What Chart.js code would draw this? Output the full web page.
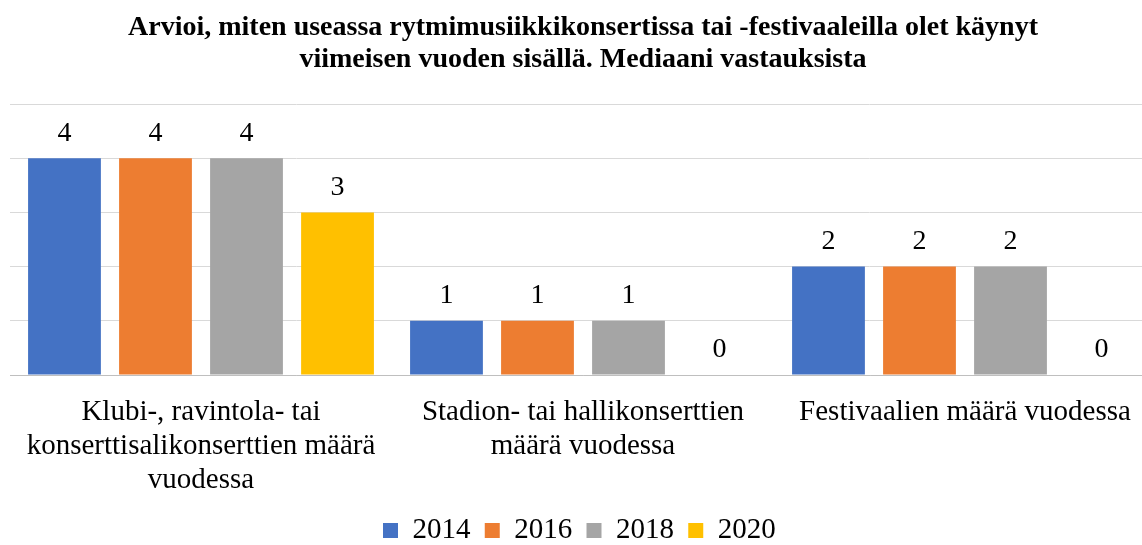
<!DOCTYPE html>
<html>
<head>
<meta charset="utf-8">
<script src="https://cdn.jsdelivr.net/npm/chart.js@4"></script>
<style>
  body { margin: 0; overflow: hidden; background: #fff; }
  #wrap { width: 1160px; height: 555px; }
</style>
</head>
<body>
<div id="wrap"><canvas id="mediaaniChart"></canvas></div>
<script>
// data
const categories = [
  ["Klubi-, ravintola- tai", "konserttisalikonserttien määrä", "vuodessa"],
  ["Stadion- tai hallikonserttien", "määrä vuodessa"],
  ["Festivaalien määrä vuodessa"],
];
const years = ["2014", "2016", "2018", "2020"];
const values2014 = [4, 1, 2];
const values2016 = [4, 1, 2];
const values2018 = [4, 1, 2];
const values2020 = [3, 0, 0];
const colors = ["#4472C4", "#ED7D31", "#A5A5A5", "#FFC000"];

const serif = "'Liberation Serif', 'Times New Roman', serif";

// draws the value above each bar
const valueLabels = {
  id: "valueLabels",
  afterDatasetsDraw(chart) {
    const ctx = chart.ctx;
    ctx.save();
    ctx.font = "28px " + serif;
    ctx.fillStyle = "#000";
    ctx.textAlign = "center";
    ctx.textBaseline = "bottom";
    chart.data.datasets.forEach((ds, i) => {
      chart.getDatasetMeta(i).data.forEach((bar, j) => {
        ctx.fillText(ds.data[j], bar.x, bar.y - 11);
      });
    });
    ctx.restore();
  },
};

function mediaani() {
  const seriesValues = [values2014, values2016, values2018, values2020];
  const data = {
    labels: categories,
    datasets: years.map((y, i) => ({
      label: y,
      data: seriesValues[i],
      backgroundColor: colors[i],
      categoryPercentage: 0.953,
      barPercentage: 0.8,
    })),
  };

  const config = {
    type: "bar",
    data: data,
    options: {
      responsive: true,
      maintainAspectRatio: false,
      animation: false,
      layout: { padding: { left: 10, right: 4, top: 0, bottom: 0 } },
      plugins: {
        title: {
          display: true,
          text: [
            "Arvioi, miten useassa rytmimusiikkikonsertissa tai -festivaaleilla olet käynyt",
            "viimeisen vuoden sisällä. Mediaani vastauksista",
          ],
          color: "#000",
          font: { family: serif, size: 28, weight: "bold", lineHeight: 1.143 },
          padding: { top: 12, bottom: 28 },
        },
        legend: {
          position: "bottom",
          labels: {
            color: "#000",
            font: { family: serif, size: 29 },
            boxWidth: 15,
            boxHeight: 15,
            padding: 7,
            // a trailing space widens the gap between legend items
            generateLabels(chart) {
              const items = Chart.defaults.plugins.legend.labels.generateLabels(chart);
              items.forEach((it) => (it.text = it.text + " "));
              return items;
            },
          },
        },
        tooltip: { enabled: false },
      },
      scales: {
        x: {
          grid: { display: false },
          border: { color: "#bfbfbf" },
          ticks: {
            color: "#000",
            font: { family: serif, size: 29, lineHeight: 1.172 },
            padding: 12,
            maxRotation: 0,
          },
        },
        y: {
          min: 0,
          max: 5,
          ticks: { display: false, stepSize: 1 },
          border: { display: false },
          grid: { color: "#d9d9d9", drawTicks: false },
        },
      },
    },
    plugins: [valueLabels],
  };

  const ctx = document.getElementById("mediaaniChart").getContext("2d");
  new Chart(ctx, config);
}
mediaani();
</script>
</body>
</html>
